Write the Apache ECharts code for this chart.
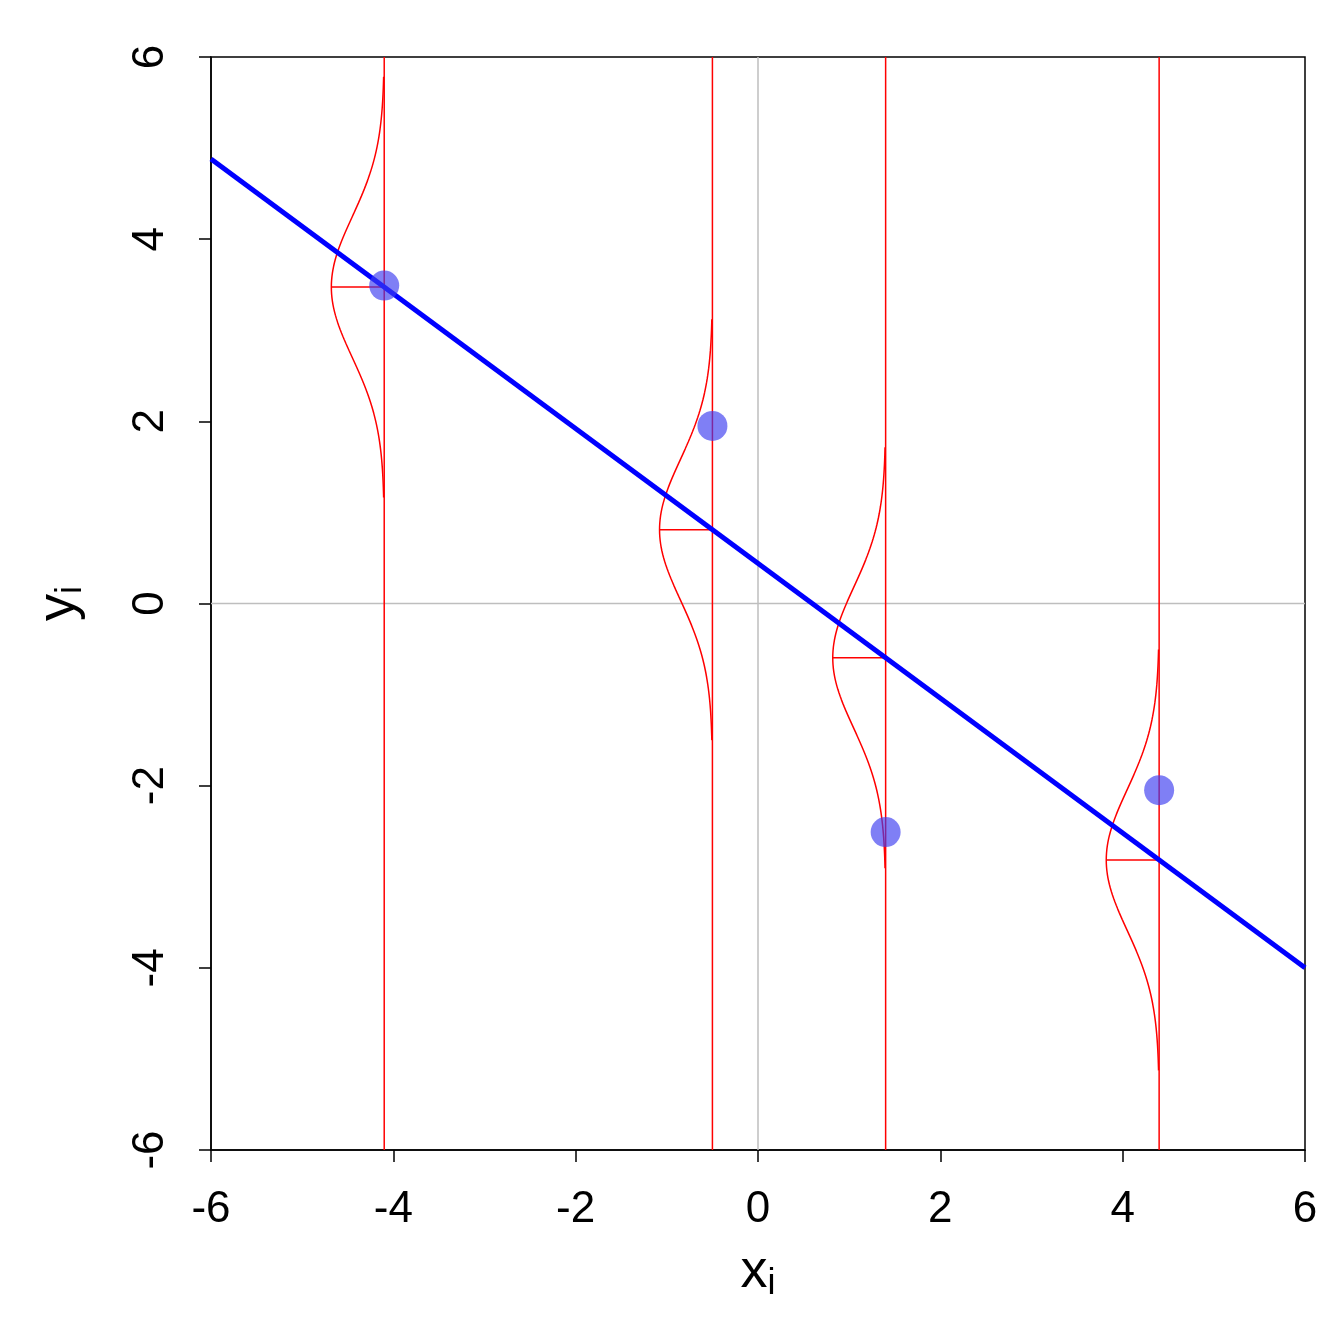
<!DOCTYPE html><html><head><meta charset="utf-8">
<script src="https://cdn.jsdelivr.net/npm/echarts@6/dist/echarts.min.js"></script>
<style>html,body{margin:0;background:#fff}#c{width:1344px;height:1344px}</style></head><body><div id="c"></div>
<script>
const xs = [-4.1, -0.5, 1.4, 4.4];
const ys = [3.49, 1.95, -2.51, -2.05];
const intercept = 0.44, slope = -0.74;
const curveSd = 0.77, curveAmp = 0.58;
const ticks = [-6,-4,-2,0,2,4,6];
const F='Liberation Sans, Arial, sans-serif';
const series=[];
const red={color:'#ff0000',width:1.5};
series.push({type:'line',data:[[0,-6],[0,6]],showSymbol:false,lineStyle:{color:'#bebebe',width:1.5},silent:true});
series.push({type:'line',data:[[-6,0],[6,0]],showSymbol:false,lineStyle:{color:'#bebebe',width:1.5},silent:true});
xs.forEach((x)=>{
  const fit=intercept+slope*x;
  series.push({type:'line',data:[[x,-6],[x,6]],showSymbol:false,lineStyle:red,silent:true});
  const pts=[];
  for(let i=0;i<=120;i++){const z=-3+i*6/120;pts.push([x-curveAmp*Math.exp(-z*z/2),fit+z*curveSd]);}
  series.push({type:'line',data:pts,showSymbol:false,lineStyle:red,silent:true});
  series.push({type:'line',data:[[x-curveAmp,fit],[x,fit]],showSymbol:false,lineStyle:red,silent:true});
});
series.push({type:'line',data:[[-6,intercept-6*slope],[6,intercept+6*slope]],showSymbol:false,lineStyle:{color:'#0000ff',width:5},z:5});
series.push({type:'scatter',data:xs.map((x,i)=>[x,ys[i]]),symbolSize:30,itemStyle:{color:'rgba(60,60,240,0.82)'},z:6});
const axisCommon={type:'value',min:-6,max:6,interval:2,splitLine:{show:false},
  axisLine:{show:true,onZero:false,lineStyle:{color:'#000',width:1.5}},
  axisTick:{show:true,length:12,lineStyle:{color:'#000',width:1.5}},
  nameLocation:'middle',nameTextStyle:{fontFamily:F,color:'#000',rich:{a:{fontSize:54,fontFamily:F},b:{fontSize:36,fontFamily:F,padding:[24,0,0,0]}}}};
echarts.init(document.getElementById('c')).setOption({
  animation:false,
  grid:{left:211,right:39,top:57,bottom:194,show:true,borderColor:'#000',borderWidth:1.5},
  xAxis:Object.assign({},axisCommon,{name:'{a|x}{b|i}',nameGap:92,axisLabel:{fontSize:44,color:'#000',fontFamily:F,margin:38}}),
  yAxis:Object.assign({},axisCommon,{name:'{a|y}{b|i}',nameGap:122,nameRotate:90,axisLabel:{fontSize:44,color:'#000',fontFamily:F,rotate:90,margin:38}}),
  series
});
</script></body></html>
